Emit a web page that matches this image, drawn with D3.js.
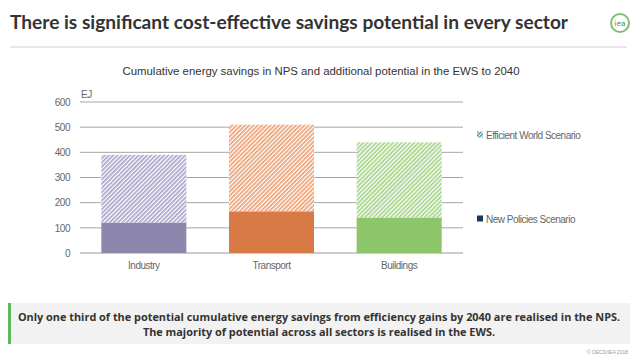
<!DOCTYPE html>
<html>
<head>
<meta charset="utf-8">
<script src="https://cdn.jsdelivr.net/npm/d3@7"></script>
<style>
  body { margin: 0; background: #fff; }
  svg text { font-family: "Liberation Sans", Arial, sans-serif; }
</style>
</head>
<body>
<svg id="chart" width="638" height="359"></svg>
<script>
// sectors and values (EJ)
var sectors = ["Industry", "Transport", "Buildings"];
var npsValues = [120, 165, 140];        // New Policies Scenario
var ewsTotals = [390, 510, 440];        // total incl. Efficient World Scenario potential
var yTicks = [0, 100, 200, 300, 400, 500, 600];
var solidColors = ["#8d87ae", "#d77a45", "#8dc56b"];
var hatchColors = ["#a9a4cb", "#eda176", "#a6d48a"];

var svg = d3.select("#chart");

// hatch patterns, one per sector
var defs = svg.append("defs");
sectors.forEach(function(s, i) {
  var p = defs.append("pattern")
      .attr("id", "hatch" + i)
      .attr("patternUnits", "userSpaceOnUse")
      .attr("width", 3).attr("height", 3)
      .attr("patternTransform", "rotate(45)");
  p.append("rect").attr("width", 3).attr("height", 3).attr("fill", "#fff");
  p.append("rect").attr("width", 1.7).attr("height", 3).attr("fill", hatchColors[i]);
});
var lp = defs.append("pattern")
    .attr("id", "hatchLegend")
    .attr("patternUnits", "userSpaceOnUse")
    .attr("width", 2.5).attr("height", 2.5)
    .attr("patternTransform", "rotate(45)");
lp.append("rect").attr("width", 2.5).attr("height", 2.5).attr("fill", "#fff");
lp.append("rect").attr("width", 1.4).attr("height", 2.5).attr("fill", "#3a8fb0");

// slide title
svg.append("text")
    .attr("x", 10).attr("y", 29)
    .attr("textLength", 558)
    .attr("lengthAdjust", "spacingAndGlyphs")
    .style("font-family", "Lato, 'Open Sans', sans-serif")
    .style("font-weight", "bold")
    .style("font-size", "19px")
    .attr("fill", "#333")
    .text("There is significant cost-effective savings potential in every sector");

svg.append("line")
    .attr("x1", 10).attr("x2", 627).attr("y1", 47).attr("y2", 47)
    .attr("stroke", "#d0d0d0").attr("stroke-width", 1);

// iea logo
svg.append("circle")
    .attr("cx", 620).attr("cy", 23).attr("r", 9)
    .attr("fill", "none").attr("stroke", "#7dbf73").attr("stroke-width", 2);
svg.append("text")
    .attr("x", 620).attr("y", 26)
    .attr("text-anchor", "middle")
    .style("font-family", "'DejaVu Sans', sans-serif")
    .style("font-size", "7.5px")
    .attr("fill", "#4d9a45")
    .text("iea");

// chart title
svg.append("text")
    .attr("x", 321).attr("y", 75)
    .attr("text-anchor", "middle")
    .style("font-size", "11.4px")
    .attr("fill", "#333")
    .text("Cumulative energy savings in NPS and additional potential in the EWS to 2040");

// scales
var xScale = d3.scaleBand()
    .domain(sectors)
    .range([80, 463])
    .paddingInner(0.334)
    .paddingOuter(0.167);

var yScale = d3.scaleLinear()
    .domain([0, 600])
    .range([253, 102]);

// gridlines
svg.append("g")
  .selectAll("line")
  .data(yTicks)
  .enter().append("line")
    .attr("x1", 80).attr("x2", 463)
    .attr("y1", function(d) { return yScale(d); })
    .attr("y2", function(d) { return yScale(d); })
    .attr("stroke", function(d) { return d == 0 ? "#999" : "#a6a6a6"; })
    .attr("stroke-width", 1);

// condensed look for the axis and legend labels
function narrow(sel) {
  sel.style("font-size", "10px").style("letter-spacing", "-0.5px").attr("fill", "#666");
}

// y axis labels
var yAxis = d3.axisLeft(yScale).tickValues(yTicks).tickSize(0).tickPadding(10);
var gy = svg.append("g")
    .attr("transform", "translate(80,0)")
    .call(yAxis);
gy.select(".domain").remove();
gy.selectAll("text").call(narrow);

svg.append("text")
    .attr("x", 81).attr("y", 98)
    .call(narrow)
    .text("EJ");

// x axis labels
var xAxis = d3.axisBottom(xScale).tickSize(0).tickPadding(9);
var gx = svg.append("g")
    .attr("transform", "translate(0,253)")
    .call(xAxis);
gx.select(".domain").remove();
gx.selectAll("text").call(narrow);

// bars: hatched EWS potential then solid NPS
var bars = svg.append("g");
bars.selectAll("rect.ews")
  .data(sectors)
  .enter().append("rect")
    .attr("class", "ews")
    .attr("x", function(d) { return xScale(d); })
    .attr("width", xScale.bandwidth())
    .attr("y", function(d, i) { return yScale(ewsTotals[i]); })
    .attr("height", function(d, i) { return yScale(npsValues[i]) - yScale(ewsTotals[i]); })
    .attr("fill", function(d, i) { return "url(#hatch" + i + ")"; });

bars.selectAll("rect.nps")
  .data(sectors)
  .enter().append("rect")
    .attr("class", "nps")
    .attr("x", function(d) { return xScale(d); })
    .attr("width", xScale.bandwidth())
    .attr("y", function(d, i) { return yScale(npsValues[i]); })
    .attr("height", function(d, i) { return yScale(0) - yScale(npsValues[i]); })
    .attr("fill", function(d, i) { return solidColors[i]; });

// legend
var legend = [
  { label: "Efficient World Scenario", fill: "url(#hatchLegend)", y: 135 },
  { label: "New Policies Scenario", fill: "#17375e", y: 219 }
];
var lg = svg.append("g").selectAll("g")
  .data(legend)
  .enter().append("g")
    .attr("transform", function(d) { return "translate(477," + d.y + ")"; });
lg.append("rect")
    .attr("x", 0).attr("y", -3.5).attr("width", 6).attr("height", 6)
    .attr("fill", function(d) { return d.fill; });
lg.append("text")
    .attr("x", 9).attr("y", 3.5)
    .call(narrow)
    .text(function(d) { return d.label; });

// takeaway box
svg.append("rect")
    .attr("x", 8).attr("y", 303).attr("width", 622).attr("height", 41)
    .attr("fill", "#f2f2f2");
svg.append("rect")
    .attr("x", 8).attr("y", 303).attr("width", 3).attr("height", 41)
    .attr("fill", "#5cb85c");
var msg = [
  "Only one third of the potential cumulative energy savings from efficiency gains by 2040 are realised in the NPS.",
  "The majority of potential across all sectors is realised in the EWS."
];
svg.append("g").selectAll("text")
  .data(msg)
  .enter().append("text")
    .attr("x", 319)
    .attr("y", function(d, i) { return 321 + i * 14.5; })
    .attr("text-anchor", "middle")
    .style("font-family", "'Open Sans', 'Noto Sans', sans-serif")
    .style("font-weight", "bold")
    .style("font-size", "10.9px")
    .attr("fill", "#333")
    .text(function(d) { return d; });

svg.append("text")
    .attr("x", 628).attr("y", 354)
    .attr("text-anchor", "end")
    .style("font-size", "5px")
    .attr("fill", "#999")
    .text("© OECD/IEA 2018");
</script>
</body>
</html>
